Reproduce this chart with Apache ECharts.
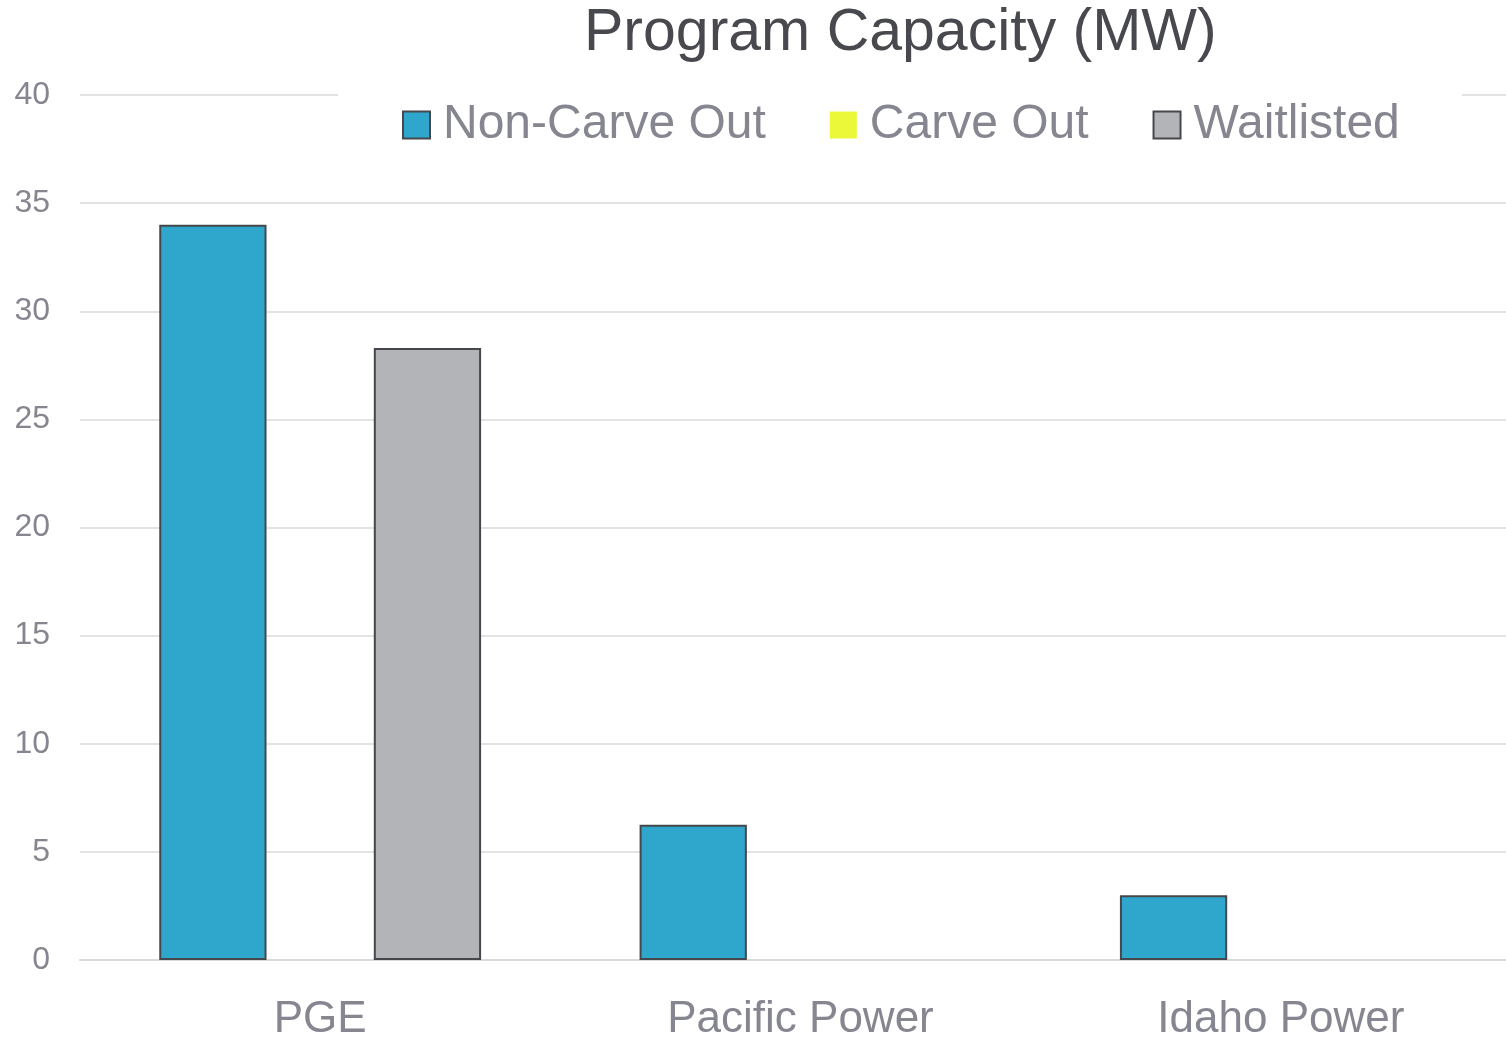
<!DOCTYPE html>
<html>
<head>
<meta charset="utf-8">
<script src="https://cdn.jsdelivr.net/npm/echarts@6/dist/echarts.min.js"></script>
<style>
html,body{margin:0;padding:0;background:#fff;}
#main{width:1506px;height:1038px;}
</style>
</head>
<body>
<div id="main"></div>
<script>
const categories = ['PGE', 'Pacific Power', 'Idaho Power'];
const seriesNames = ['Non-Carve Out', 'Carve Out', 'Waitlisted'];
const nonCarveOut = [34.0, 6.25, 3.0];
const carveOut = [null, null, null];
const waitlisted = [28.3, null, null];
const yTicks = [0, 5, 10, 15, 20, 25, 30, 35, 40];

const FONT = '"Liberation Sans", Arial, sans-serif';
const TXT = '#85868F';
const colors = ['#2FA6CC', '#EBF83A', '#B3B4B8'];
const border = '#46474C';

const chart = echarts.init(document.getElementById('main'));
chart.setOption({
  animation: false,
  backgroundColor: '#fff',
  textStyle: { fontFamily: FONT },
  title: {
    text: 'Program Capacity (MW)',
    left: 584,
    top: 4,
    padding: 0,
    textStyle: { fontFamily: FONT, fontSize: 59, fontWeight: 'normal', color: '#48494E' }
  },
  legend: {
    left: 338,
    top: 89,
    padding: [12, 62, 6, 64],
    backgroundColor: '#fff',
    icon: 'rect',
    itemWidth: 27,
    itemHeight: 27,
    itemGap: 64,
    data: [
      { name: seriesNames[0], itemStyle: { borderColor: border, borderWidth: 2 } },
      { name: seriesNames[1], itemStyle: { borderWidth: 0 } },
      { name: seriesNames[2], itemStyle: { borderColor: border, borderWidth: 2 } }
    ],
    textStyle: { fontFamily: FONT, fontSize: 48, color: TXT, padding: [0, 0, 0, 8] }
  },
  grid: { left: 80, right: -15, top: 95, bottom: 78, containLabel: false, outerBoundsMode: 'none' },
  xAxis: {
    type: 'category',
    data: categories,
    axisLine: { show: true, lineStyle: { color: '#D9D9D9', width: 2 } },
    axisTick: { show: false },
    axisLabel: { fontFamily: FONT, fontSize: 44, color: TXT, margin: 38 }
  },
  yAxis: {
    type: 'value',
    min: yTicks[0],
    max: yTicks[yTicks.length - 1],
    interval: 5,
    axisLine: { show: false },
    axisTick: { show: false },
    splitLine: { lineStyle: { color: '#E3E3E3', width: 2 } },
    axisLabel: { fontFamily: FONT, fontSize: 32, color: TXT, margin: 30 }
  },
  series: [
    { name: seriesNames[0], type: 'bar', data: nonCarveOut, barGap: '0%', barCategoryGap: '33%',
      itemStyle: { color: colors[0], borderColor: border, borderWidth: 2 } },
    { name: seriesNames[1], type: 'bar', data: carveOut,
      itemStyle: { color: colors[1], borderWidth: 0 } },
    { name: seriesNames[2], type: 'bar', data: waitlisted,
      itemStyle: { color: colors[2], borderColor: border, borderWidth: 2 } }
  ]
});
</script>
</body>
</html>
